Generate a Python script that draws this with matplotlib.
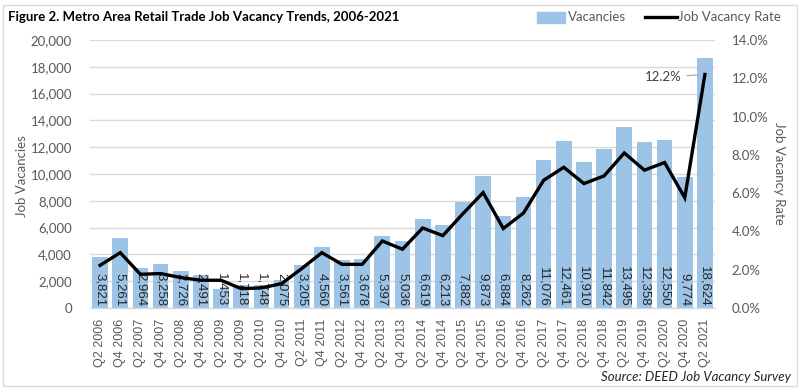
import matplotlib
matplotlib.use('Agg')
import matplotlib.pyplot as plt
from matplotlib.patches import Rectangle
from matplotlib.lines import Line2D
import numpy as np

categories = ['Q2 2006', 'Q4 2006', 'Q2 2007', 'Q4 2007', 'Q2 2008', 'Q4 2008',
              'Q2 2009', 'Q4 2009', 'Q2 2010', 'Q4 2010', 'Q2 2011', 'Q4 2011',
              'Q2 2012', 'Q4 2012', 'Q2 2013', 'Q4 2013', 'Q2 2014', 'Q4 2014',
              'Q2 2015', 'Q4 2015', 'Q2 2016', 'Q4 2016', 'Q2 2017', 'Q4 2017',
              'Q2 2018', 'Q4 2018', 'Q2 2019', 'Q4 2019', 'Q2 2020', 'Q4 2020',
              'Q2 2021']
vacancies = [3821, 5261, 2964, 3258, 2726, 2491, 1453, 1718, 1748, 2075, 3205,
             4560, 3561, 3678, 5397, 5036, 6619, 6213, 7882, 9873, 6884, 8262,
             11076, 12461, 10910, 11842, 13495, 12358, 12550, 9774, 18624]
rates = [2.23, 2.89, 1.76, 1.80, 1.59, 1.45, 1.45, 1.01, 1.05, 1.27, 2.06,
         2.89, 2.28, 2.28, 3.50, 3.07, 4.18, 3.78, 4.93, 6.03, 4.15, 4.96,
         6.67, 7.35, 6.50, 6.90, 8.10, 7.20, 7.60, 5.76, 12.2]
left_ticks = list(range(0, 20001, 2000))
right_ticks = list(range(0, 15, 2))

W, H = 800, 391
BODY = 'Lato'
GRAY = '#595959'
FS = 9.5

fig = plt.figure(figsize=(8, 3.91), dpi=100)
ax = fig.add_axes([90 / W, 1 - 308 / H, 625 / W, 268 / H])
x = np.arange(len(categories))

ax.bar(x, vacancies, width=0.78, color='#9DC3E6', zorder=2)
for xi, v in zip(x, vacancies):
    ax.text(xi, 110, f'{v:,}', rotation=270, ha='center', va='bottom',
            fontsize=9.5, family='Liberation Sans', color='#262626', zorder=3)

ax.set_xlim(-0.5, len(categories) - 0.5)
ax.set_ylim(0, 20000)
ax.set_yticks(left_ticks)
ax.set_yticklabels([f'{v:,}' for v in left_ticks], family=BODY, fontsize=FS, color=GRAY)
ax.set_xticks(x)
ax.set_xticklabels(categories, rotation=90, family='Liberation Sans', fontsize=9, color=GRAY)
ax.tick_params(axis='both', length=0)
ax.tick_params(axis='y', pad=13)
ax.tick_params(axis='x', pad=8)
ax.grid(axis='y', color='#D9D9D9', lw=1, zorder=0)
ax.set_axisbelow(True)
for s in ['top', 'right', 'left']:
    ax.spines[s].set_visible(False)
ax.spines['bottom'].set_color('#D9D9D9')
ax.spines['bottom'].set_linewidth(1)

ax2 = ax.twinx()
ax2.plot(x, rates, color='black', lw=2.4, zorder=4, solid_joinstyle='miter')
ax2.set_ylim(0, 14)
ax2.set_yticks(right_ticks)
ax2.set_yticklabels([f'{v:.1f}%' for v in right_ticks], family=BODY, fontsize=FS, color=GRAY)
ax2.tick_params(axis='y', length=0, pad=12)
for s in ax2.spines.values():
    s.set_visible(False)
ax2.annotate(f'{rates[-1]:.1f}%', xy=(x[-1], rates[-1]), xytext=(-17, -2),
             textcoords='offset points', ha='right', va='center',
             family=BODY, fontsize=FS, color='#404040',
             arrowprops=dict(arrowstyle='-', color='#A6A6A6', lw=0.8,
                             shrinkA=2, shrinkB=4))

fig.text(22 / W, 1 - 176 / H, 'Job Vacancies', rotation=90, ha='center', va='center',
         family=BODY, fontsize=FS, color=GRAY)
fig.text(779 / W, 1 - 173 / H, 'Job Vacancy Rate', rotation=270, ha='center', va='center',
         family=BODY, fontsize=FS, color=GRAY)

fig.text(8 / W, 1 - 17 / H, 'Figure 2. Metro Area Retail Trade Job Vacancy Trends, 2006-2021',
         ha='left', va='center', family=BODY, fontweight='bold', fontsize=9.5, color='black')

# legend
fig.add_artist(Rectangle((537 / W, 1 - 23 / H), 28 / W, 11 / H, color='#9DC3E6',
                         transform=fig.transFigure))
fig.text(568 / W, 1 - 17 / H, 'Vacancies', ha='left', va='center', family=BODY,
         fontsize=FS, color=GRAY)
fig.add_artist(Line2D([645 / W, 677 / W], [1 - 17 / H, 1 - 17 / H], color='black', lw=2.4,
                      transform=fig.transFigure))
fig.text(678 / W, 1 - 17 / H, 'Job Vacancy Rate', ha='left', va='center', family=BODY,
         fontsize=FS, color=GRAY)

fig.text(791 / W, 1 - 377 / H, 'Source: DEED Job Vacancy Survey', ha='right', va='center',
         family=BODY, style='italic', fontsize=9.5, color='#262626')

fig.add_artist(Rectangle((3 / W, 1 - 386 / H), 794 / W, 381 / H, fill=False,
                         edgecolor='#D9D9D9', lw=1, transform=fig.transFigure))

fig.savefig('out.png', dpi=100)
